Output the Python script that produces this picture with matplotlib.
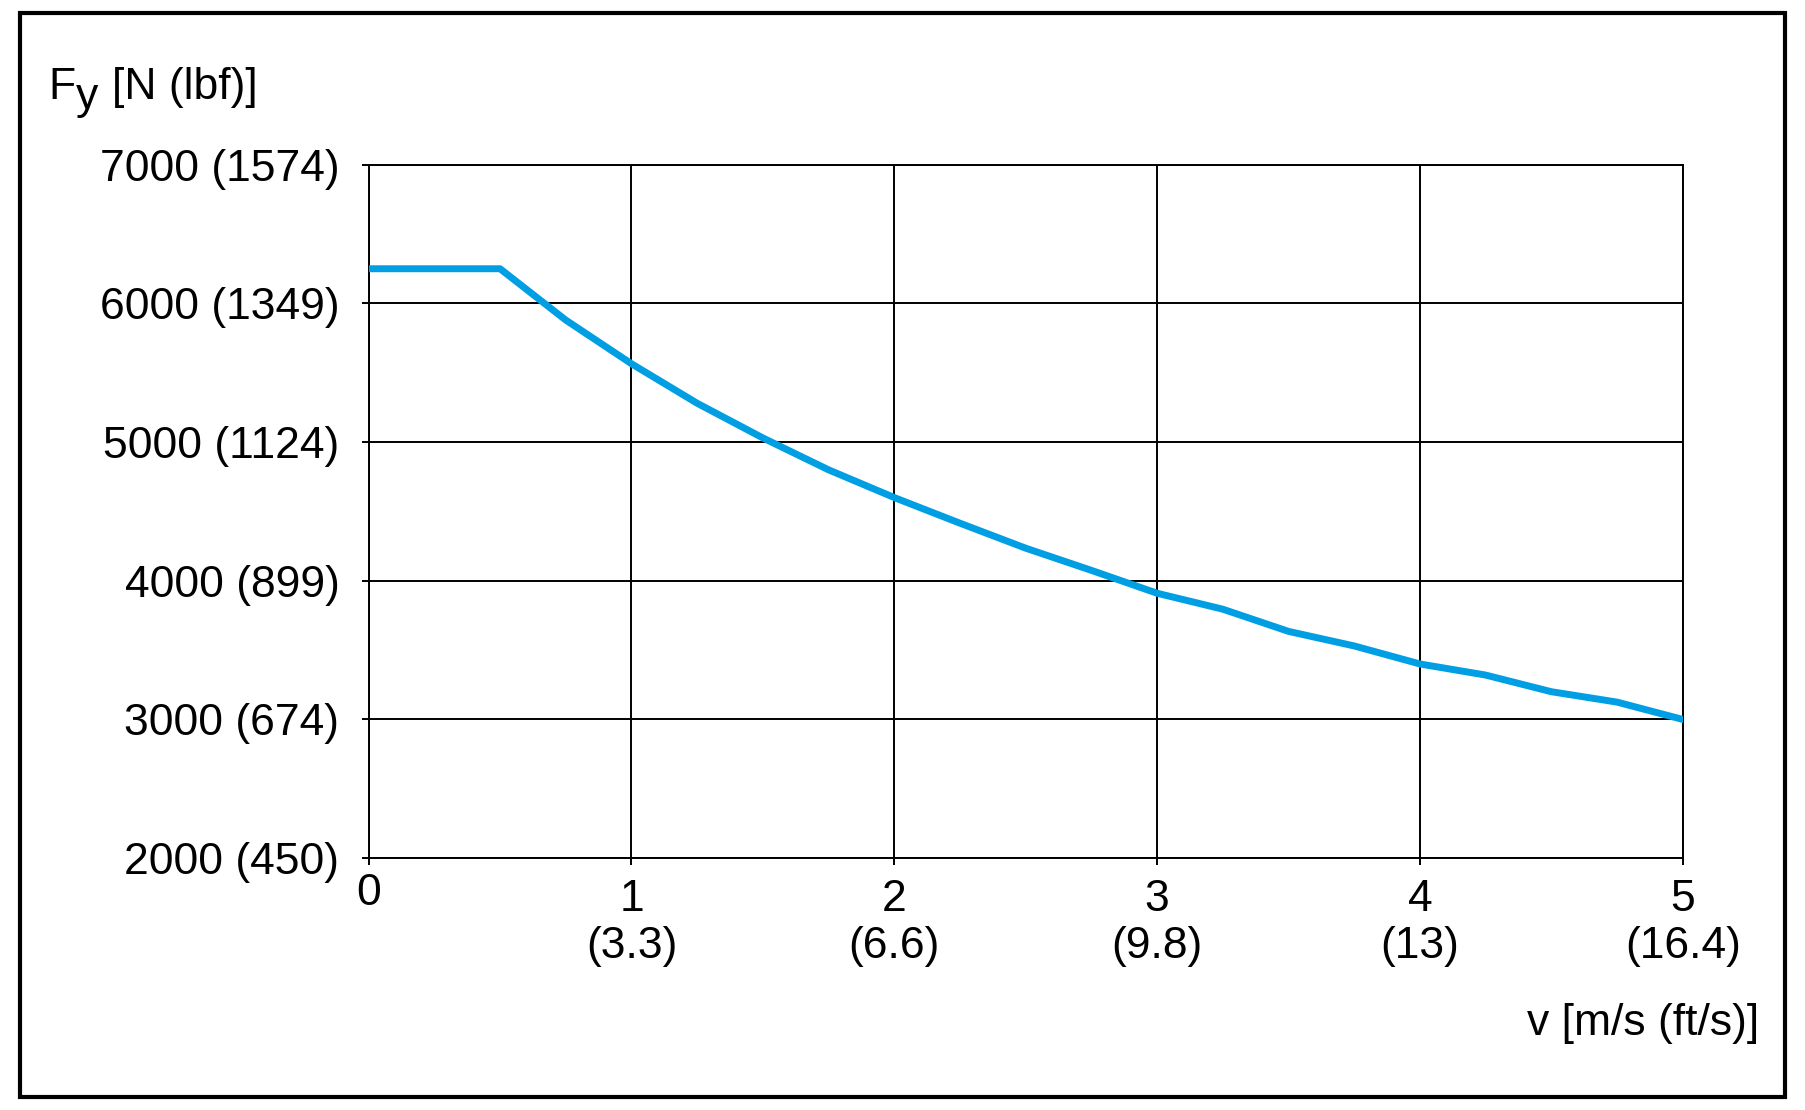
import matplotlib.pyplot as plt
from matplotlib.patches import Rectangle
from matplotlib.transforms import ScaledTranslation

plt.rcParams['font.family'] = ['Liberation Sans', 'DejaVu Sans']

# speed v [m/s] and permissible force Fy [N]
v = [0, 0.25, 0.5, 0.75, 1.0, 1.25, 1.5, 1.75, 2.0, 2.25, 2.5,
     2.75, 3.0, 3.25, 3.5, 3.75, 4.0, 4.25, 4.5, 4.75, 5.0]
fy = [6250, 6250, 6250, 5880, 5565, 5280, 5030, 4800, 4600, 4415, 4235,
      4075, 3910, 3795, 3635, 3530, 3400, 3320, 3200, 3125, 3000]

x_ticks = [0, 1, 2, 3, 4, 5]
x_tick_labels = ['0', '1\n(3.3)', '2\n(6.6)', '3\n(9.8)', '4\n(13)', '5\n(16.4)']
y_ticks = [2000, 3000, 4000, 5000, 6000, 7000]
y_tick_labels = ['2000 (450)', '3000 (674)', '4000 (899)', '5000 (1124)',
                 '6000 (1349)', '7000 (1574)']

fig = plt.figure(figsize=(18.06, 11.10), dpi=100)
ax = fig.add_axes([0.2041, 0.2269, 0.7277, 0.6247])

ax.plot(v, fy, color='#009FE3', lw=5, zorder=3)
ax.set_xlim(0, 5)
ax.set_ylim(2000, 7000)
ax.set_xticks(x_ticks, x_tick_labels)
ax.set_yticks(y_ticks, y_tick_labels)

ax.grid(True, color='black', lw=1.4)
for s in ax.spines.values():
    s.set_linewidth(1.4)
ax.tick_params(direction='out', length=5, width=1.4, labelsize=32, colors='black')
ax.tick_params(axis='x', pad=10)
ax.tick_params(axis='y', pad=16)

# the "0" sits a little higher than the other speed labels
lbl0 = ax.get_xticklabels()[0]
lbl0.set_transform(lbl0.get_transform() + ScaledTranslation(0, 0.06, fig.dpi_scale_trans))

# axis titles
fig.text(0.0266, 0.9105, 'F', fontsize=32, va='baseline')
fig.text(0.0418, 0.9015, 'y', fontsize=32, va='baseline')
fig.text(0.0620, 0.9105, '[N (lbf)]', fontsize=32, va='baseline')
fig.text(0.9739, 0.0676, 'v [m/s (ft/s)]', fontsize=32, va='baseline', ha='right')

# frame round the whole picture
fig.patches.append(Rectangle((0.0108, 0.0117), 0.9773, 0.9766, transform=fig.transFigure,
                             fill=False, edgecolor='black', lw=3))

fig.savefig('out.png', dpi=100)
